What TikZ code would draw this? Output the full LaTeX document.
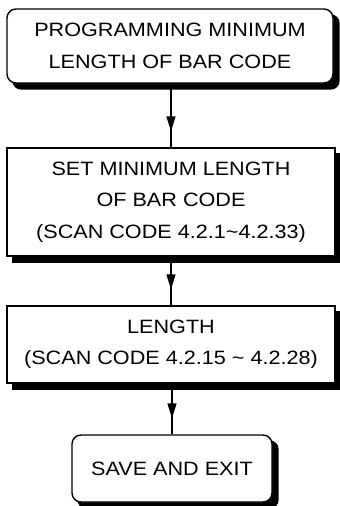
\documentclass[tikz,border=0pt]{standalone}
\usepackage{fontspec}
\newfontfamily\flowfont[FakeStretch=1.12]{Liberation Sans}
\usetikzlibrary{arrows.meta, backgrounds, decorations.markings}

\begin{document}
\begin{tikzpicture}[
  x=1pt, y=-1pt,
  box/.style={rectangle, draw=black, fill=white, line width=1.4pt, align=center, inner sep=0pt, font=\flowfont\fontsize{19.3}{31.5}\selectfont},
  term/.style={box, rounded corners=9pt},
  flow/.style={line width=1.4pt, postaction={decorate}, decoration={markings, mark=at position -16pt with {\arrow{Triangle[length=15pt, width=9pt]}}}}
]
  \useasboundingbox (0,0) rectangle (340,506);

  \node[term, minimum width=326pt, minimum height=74pt] (prog) at (170,46) {PROGRAMMING MINIMUM\\LENGTH OF BAR CODE};
  \node[box, minimum width=328pt, minimum height=108pt] (setmin) at (171,202) {SET MINIMUM LENGTH\\OF BAR CODE\\(SCAN CODE 4.2.1\textasciitilde 4.2.33)};
  \node[box, minimum width=328pt, minimum height=77pt] (len) at (171,344.5) {LENGTH\\(SCAN CODE 4.2.15 \textasciitilde\ 4.2.28)};
  \node[term, minimum width=200pt, minimum height=67pt] (save) at (172,468.5) {SAVE AND EXIT};

  % solid shadows behind the boxes
  \begin{scope}[on background layer]
    \fill[rounded corners=9pt] ([shift={(6pt,-6pt)}]prog.south west) rectangle ([shift={(6pt,-6pt)}]prog.north east);
    \fill ([shift={(6pt,-6pt)}]setmin.south west) rectangle ([shift={(6pt,-6pt)}]setmin.north east);
    \fill ([shift={(6pt,-6pt)}]len.south west) rectangle ([shift={(6pt,-6pt)}]len.north east);
    \fill[rounded corners=9pt] ([shift={(6pt,-6pt)}]save.south west) rectangle ([shift={(6pt,-6pt)}]save.north east);
  \end{scope}

  \draw[flow] (prog.south -| setmin.north) -- (setmin.north);
  \draw[flow] (setmin) -- (len);
  \draw[flow] (len.south -| save.north) -- (save.north);
\end{tikzpicture}
\end{document}
